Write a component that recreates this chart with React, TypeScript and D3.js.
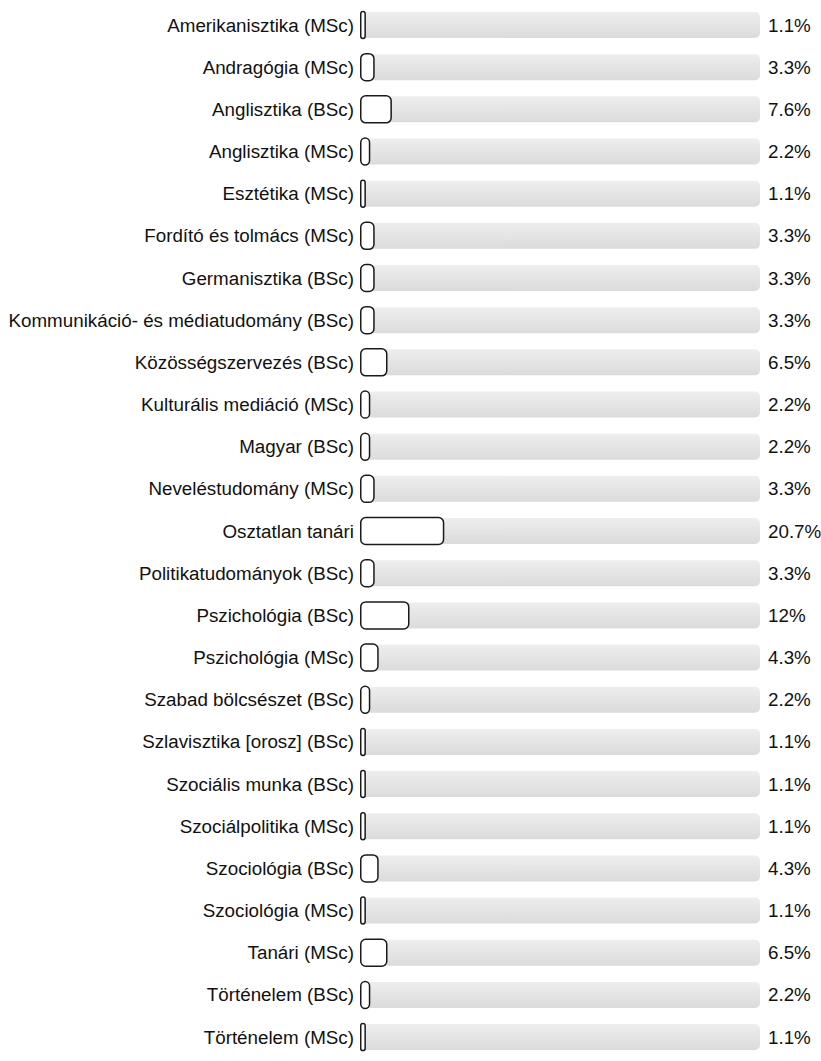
import React, { useEffect, useRef } from 'react';
import * as d3 from 'd3';

const categories = [
  'Amerikanisztika (MSc)',
  'Andragógia (MSc)',
  'Anglisztika (BSc)',
  'Anglisztika (MSc)',
  'Esztétika (MSc)',
  'Fordító és tolmács (MSc)',
  'Germanisztika (BSc)',
  'Kommunikáció- és médiatudomány (BSc)',
  'Közösségszervezés (BSc)',
  'Kulturális mediáció (MSc)',
  'Magyar (BSc)',
  'Neveléstudomány (MSc)',
  'Osztatlan tanári',
  'Politikatudományok (BSc)',
  'Pszichológia (BSc)',
  'Pszichológia (MSc)',
  'Szabad bölcsészet (BSc)',
  'Szlavisztika [orosz] (BSc)',
  'Szociális munka (BSc)',
  'Szociálpolitika (MSc)',
  'Szociológia (BSc)',
  'Szociológia (MSc)',
  'Tanári (MSc)',
  'Történelem (BSc)',
  'Történelem (MSc)',
];

const values = [1.1, 3.3, 7.6, 2.2, 1.1, 3.3, 3.3, 3.3, 6.5, 2.2, 2.2, 3.3, 20.7, 3.3, 12, 4.3, 2.2, 1.1, 1.1, 1.1, 4.3, 1.1, 6.5, 2.2, 1.1];

const valueLabels = ['1.1%', '3.3%', '7.6%', '2.2%', '1.1%', '3.3%', '3.3%', '3.3%', '6.5%', '2.2%', '2.2%', '3.3%', '20.7%', '3.3%', '12%', '4.3%', '2.2%', '1.1%', '1.1%', '1.1%', '4.3%', '1.1%', '6.5%', '2.2%', '1.1%'];

export default function App() {
  const svgRef = useRef<SVGSVGElement>(null);

  useEffect(() => {
    if (!svgRef.current) return;
    const width = 821;
    const height = 1061;
    const svg = d3.select(svgRef.current).attr('width', width).attr('height', height);
    svg.selectAll('*').remove();

    const trackLeft = 360;
    const trackRight = 760;
    const step = 42.17;
    const trackH = 26;
    const pad = 1 - trackH / step;

    const x = d3.scaleLinear().domain([0, 100]).range([trackLeft, trackRight]);
    const y = d3.scaleBand<string>()
      .domain(categories)
      .range([25 - step / 2, 25 - step / 2 + step * categories.length])
      .paddingInner(pad)
      .paddingOuter(pad / 2);

    const defs = svg.append('defs');
    const grad = defs.append('linearGradient')
      .attr('id', 'trackGrad')
      .attr('x1', 0).attr('y1', 0).attr('x2', 0).attr('y2', 1);
    grad.append('stop').attr('offset', '0%').attr('stop-color', '#eeeeee');
    grad.append('stop').attr('offset', '100%').attr('stop-color', '#dbdbdb');

    const rows = categories.map((c, i) => ({ c, v: values[i], label: valueLabels[i] }));
    const font = '"Liberation Sans", Arial, sans-serif';
    const fontSize = 18.8;

    const g = svg.append('g');

    // background tracks
    g.selectAll('rect.track')
      .data(rows)
      .join('rect')
      .attr('class', 'track')
      .attr('x', x(0))
      .attr('y', (d) => y(d.c)!)
      .attr('width', x(100) - x(0))
      .attr('height', y.bandwidth())
      .attr('rx', 5)
      .attr('fill', 'url(#trackGrad)');

    // value bars
    g.selectAll('rect.bar')
      .data(rows)
      .join('rect')
      .attr('class', 'bar')
      .attr('x', x(0) + 0.75)
      .attr('y', (d) => y(d.c)! - 0.5)
      .attr('width', (d) => Math.max(3, x(d.v) - x(0)))
      .attr('height', y.bandwidth() + 1)
      .attr('rx', (d) => Math.min(5, (x(d.v) - x(0)) / 2))
      .attr('fill', '#ffffff')
      .attr('stroke', '#1a1a1a')
      .attr('stroke-width', 1.5);

    // category labels
    g.selectAll('text.cat')
      .data(rows)
      .join('text')
      .attr('class', 'cat')
      .attr('x', 354)
      .attr('y', (d) => y(d.c)! + y.bandwidth() / 2)
      .attr('text-anchor', 'end')
      .attr('dominant-baseline', 'central')
      .attr('font-family', font)
      .attr('font-size', fontSize)
      .attr('fill', '#111')
      .text((d) => d.c);

    // value labels
    g.selectAll('text.val')
      .data(rows)
      .join('text')
      .attr('class', 'val')
      .attr('x', 768)
      .attr('y', (d) => y(d.c)! + y.bandwidth() / 2)
      .attr('text-anchor', 'start')
      .attr('dominant-baseline', 'central')
      .attr('font-family', font)
      .attr('font-size', fontSize)
      .attr('fill', '#111')
      .text((d) => d.label);
  }, []);

  return (
    <div style={{ position: 'absolute', left: 0, top: 0, background: '#fff' }}>
      <svg ref={svgRef} style={{ display: 'block' }} />
    </div>
  );
}
